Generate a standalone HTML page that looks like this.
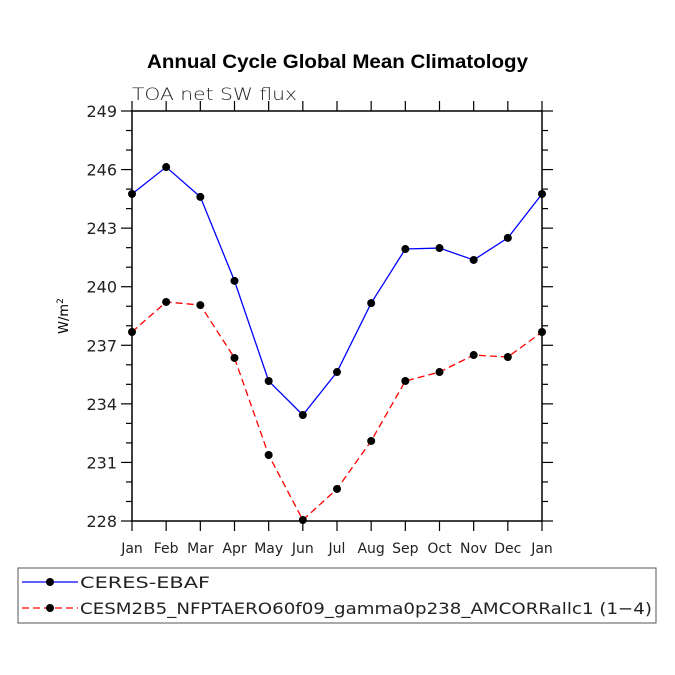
<!DOCTYPE html>
<html><head><meta charset="utf-8"><style>body{margin:0;background:#fff}svg{display:block}</style></head>
<body>
<svg id="chart" width="675" height="675" xmlns="http://www.w3.org/2000/svg" font-family="'DejaVu Sans','Liberation Sans',sans-serif">
<text x="147" y="68" textLength="381" lengthAdjust="spacingAndGlyphs" font-family="'Liberation Sans',sans-serif" font-weight="bold" font-size="19">Annual Cycle Global Mean Climatology</text>
<text x="132" y="100" textLength="165" lengthAdjust="spacingAndGlyphs" font-size="17" fill="#222" font-weight="300">TOA net SW flux</text>
<text transform="translate(68,316) rotate(-90)" text-anchor="middle" font-size="13">W/m<tspan dy="-5" font-size="9">2</tspan></text>
<g id="axes"></g>
<g id="series"></g>
<g>
<rect x="18" y="568" width="638" height="55" fill="none" stroke="#555" stroke-width="1"/>
<line x1="22" y1="582" x2="78" y2="582" stroke="#00f" stroke-width="1.3"/><circle cx="50" cy="582" r="4" fill="#000"/>
<text x="80" y="588" textLength="130" lengthAdjust="spacingAndGlyphs" font-size="16" fill="#222">CERES-EBAF</text>
<line x1="22" y1="608" x2="78" y2="608" stroke="#f00" stroke-width="1.3" stroke-dasharray="7,4"/><circle cx="50" cy="608" r="4" fill="#000"/>
<text x="80" y="614" textLength="572" lengthAdjust="spacingAndGlyphs" font-size="16" fill="#222">CESM2B5_NFPTAERO60f09_gamma0p238_AMCORRallc1 (1−4)</text>
</g>
</svg>
<script>
const months=["Jan","Feb","Mar","Apr","May","Jun","Jul","Aug","Sep","Oct","Nov","Dec","Jan"];
const yTicks=[228,231,234,237,240,243,246,249];
const ceres=[244.75,246.13,244.6,240.3,235.17,233.43,235.63,239.16,241.93,241.98,241.37,242.5,244.75];
const model=[237.68,239.22,239.06,236.35,231.38,228.05,229.64,232.1,235.17,235.63,236.5,236.4,237.68];
const NS="http://www.w3.org/2000/svg";
const L=132,R=542,T=111,B=521,ymin=228,ymax=249;
const xs=i=>L+(R-L)*i/(months.length-1);
const ys=v=>B-(B-T)*(v-ymin)/(ymax-ymin);
function mk(tag,attrs,parent){const e=document.createElementNS(NS,tag);for(const k in attrs)e.setAttribute(k,attrs[k]);parent.appendChild(e);return e;}
const ax=document.getElementById('axes');
const box=mk('rect',{x:L,y:T,width:R-L,height:B-T,fill:'none',stroke:'#000','stroke-width':1.5},ax);


for(let v=ymin;v<=ymax;v++){const maj=(v-ymin)%3===0;const y=ys(v);const len=maj?11:6;
mk('line',{x1:L-len,y1:y,x2:L,y2:y,stroke:'#000','stroke-width':1.2},ax);
mk('line',{x1:R,y1:y,x2:R+len,y2:y,stroke:'#000','stroke-width':1.2},ax);}
yTicks.forEach(v=>{const t=mk('text',{x:L-15,y:ys(v)+6,'text-anchor':'end','font-size':16,fill:'#222'},ax);t.textContent=v;

});
months.forEach((m,i)=>{const x=xs(i);
mk('line',{x1:x,y1:B,x2:x,y2:B+10,stroke:'#000','stroke-width':1.2},ax);
mk('line',{x1:x,y1:T-10,x2:x,y2:T,stroke:'#000','stroke-width':1.2},ax);
const t=mk('text',{x:x,y:553,'text-anchor':'middle','font-size':14,fill:'#222'},ax);t.textContent=m;

});
const sg=document.getElementById('series');
function draw(vals,color,dash,name){
const p=mk('polyline',{points:vals.map((v,i)=>xs(i)+','+ys(v)).join(' '),fill:'none',stroke:color,'stroke-width':1.3},sg);
if(dash)p.setAttribute('stroke-dasharray',dash);


vals.forEach((v,i)=>{const c=mk('circle',{cx:xs(i),cy:ys(v),r:4,fill:'#000'},sg);

});}
draw(ceres,'#00f',null,'ceres');
draw(model,'#f00','7,4','model');
</script>
</body></html>
